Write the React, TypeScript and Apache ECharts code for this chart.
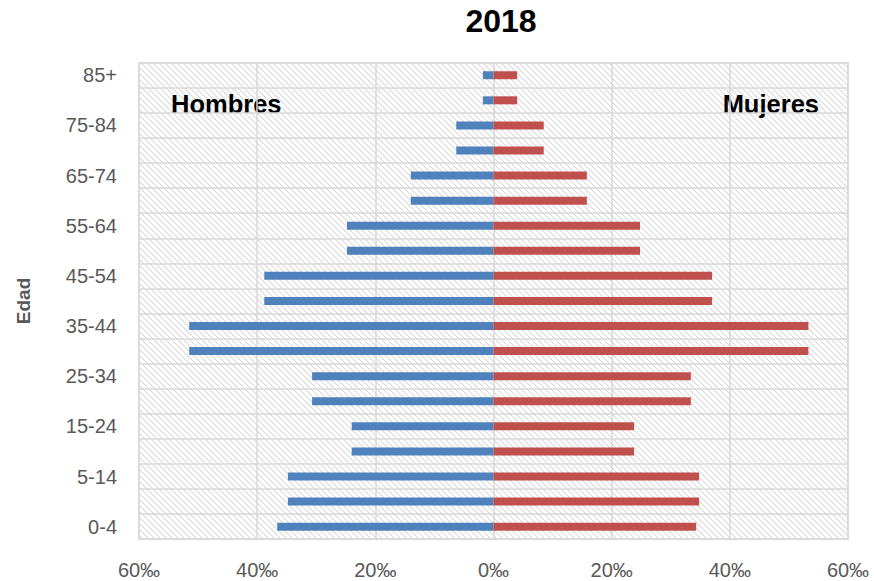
import React, { useEffect, useRef } from "react";
import * as echarts from "echarts";

// Age groups (bottom to top); unlabeled rows are the second half of each 10-year band
const ageLabels = [
  "0-4", "", "5-14", "", "15-24", "", "25-34", "", "35-44", "",
  "45-54", "", "55-64", "", "65-74", "", "75-84", "", "85+",
];
// Values in ‰
const hombres = [36.6, 34.8, 34.8, 24.0, 24.0, 30.7, 30.7, 51.5, 51.5, 38.8, 38.8, 24.8, 24.8, 14.0, 14.0, 6.3, 6.3, 1.8, 1.8];
const mujeres = [34.3, 34.8, 34.8, 23.8, 23.8, 33.4, 33.4, 53.3, 53.3, 37.0, 37.0, 24.8, 24.8, 15.8, 15.8, 8.5, 8.5, 4.0, 4.0];
const xMin = -60;
const xMax = 60;
const xStep = 20;
const titleText = "2018";

const FONT = "'Liberation Sans', Arial, sans-serif";

function hatchUrl(size: number, color: string) {
  const s = size;
  const svg = `<svg xmlns="http://www.w3.org/2000/svg" width="${s}" height="${s}"><path d="M-1,-1 L${s + 1},${s + 1} M-1,${s - 1} L1,${s + 1} M${s - 1},-1 L${s + 1},1" stroke="${color}" stroke-width="1.2" fill="none"/></svg>`;
  return "data:image/svg+xml;charset=utf-8," + encodeURIComponent(svg);
}

export default function App() {
  const ref = useRef<HTMLDivElement>(null);
  useEffect(() => {
    document.body.style.margin = "0";
    if (!ref.current) return;
    const chart = echarts.init(ref.current, null, { renderer: "svg" });
    const option: any = {
      animation: false,
      backgroundColor: "#ffffff",
      title: {
        text: titleText,
        left: 501,
        top: 5,
        padding: 0,
        textAlign: "center",
        textStyle: { fontSize: 32, fontWeight: "bold", color: "#000", fontFamily: FONT },
      },
      grid: {
        left: 139,
        top: 62.7,
        width: 709,
        height: 476.5,
        show: true,
        borderColor: "#d9d9d9",
        borderWidth: 1.5,
        backgroundColor: { image: hatchUrl(6, "#dadada"), repeat: "repeat", imageWidth: 6, imageHeight: 6 },
      },
      xAxis: {
        type: "value",
        min: xMin,
        max: xMax,
        interval: xStep,
        axisLine: { show: false },
        axisTick: { show: false },
        splitLine: { show: true, lineStyle: { color: "#d9d9d9", width: 1.5 } },
        axisLabel: {
          margin: 21,
          fontSize: 20,
          color: "#595959",
          fontFamily: FONT,
          formatter: (v: number) => Math.abs(v) + "‰",
        },
      },
      yAxis: {
        type: "category",
        data: ageLabels,
        name: "Edad",
        nameLocation: "middle",
        nameGap: 106,
        nameTextStyle: { fontSize: 19, fontWeight: "bold", color: "#595959", fontFamily: FONT },
        axisLine: { show: false, onZero: false },
        axisTick: { show: false },
        splitLine: { show: true, interval: 0, lineStyle: { color: "#d9d9d9", width: 1.5 } },
        axisLabel: { interval: 0, margin: 22, fontSize: 20, color: "#595959", fontFamily: FONT },
      },
      graphic: [
        {
          type: "text",
          left: 171,
          top: 91,
          style: { text: "Hombres", font: `bold 25.5px ${FONT}`, fill: "#000" },
        },
        {
          type: "text",
          right: 55,
          top: 91,
          style: { text: "Mujeres", font: `bold 25.5px ${FONT}`, fill: "#000" },
        },
      ],
      series: [
        {
          name: "Hombres",
          type: "bar",
          data: hombres.map((v) => -v),
          barWidth: 8,
          barGap: "-100%",
          itemStyle: { color: "#4F81BD" },
        },
        {
          name: "Mujeres",
          type: "bar",
          data: mujeres,
          barWidth: 8,
          barGap: "-100%",
          itemStyle: { color: "#C0504D" },
        },
      ],
    };
    chart.setOption(option);
    return () => chart.dispose();
  }, []);
  return <div ref={ref} style={{ width: 874, height: 581 }} />;
}
